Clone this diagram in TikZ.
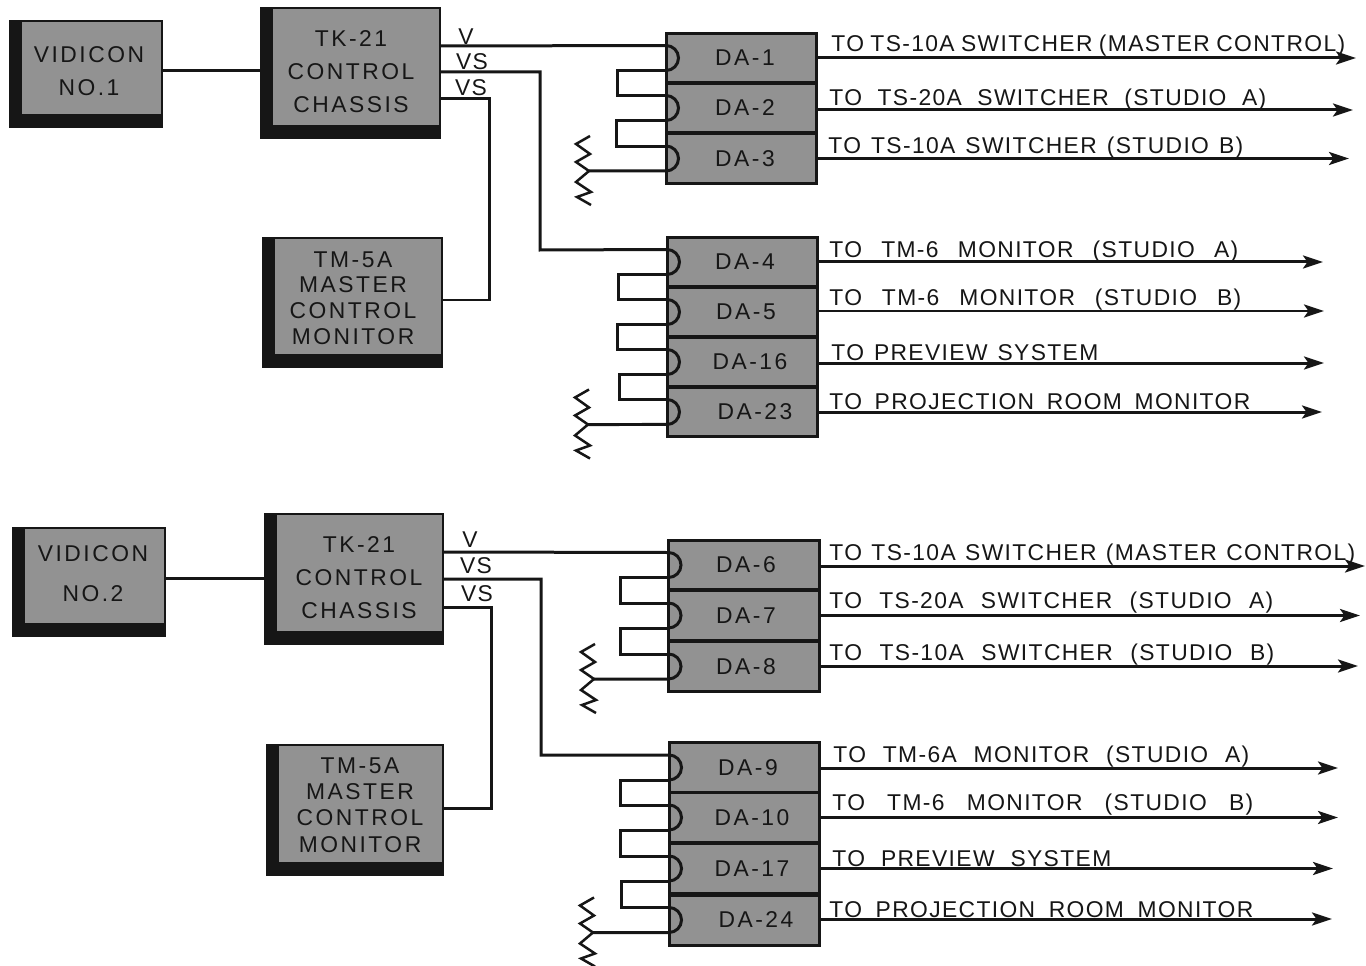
\documentclass[tikz,border=0pt]{standalone}
\usepackage{fontspec}
\setmainfont{Liberation Sans}
\newfontfamily\tofont[LetterSpace=6]{Liberation Sans}
\newfontfamily\panelfont[LetterSpace=11]{Liberation Sans}
\usepackage{xcolor}
\usepackage{tikz}
\usetikzlibrary{arrows.meta, positioning}
\definecolor{panelgray}{RGB}{146, 146, 146}
\definecolor{inkblack}{RGB}{22, 22, 22}
\tikzset{
  wire/.style={line width=0.06cm, inkblack},
  feed/.style={wire, -{Stealth[length=4mm, width=2.6mm, inset=0.9mm]}},
  shadowbox/.style={draw=inkblack, line width=0.03cm, fill=panelgray, inner sep=0pt, outer sep=0pt,
    path picture={
      \fill[inkblack] (path picture bounding box.south west) rectangle
        ([xshift=0.23cm]path picture bounding box.north west);
      \fill[inkblack] (path picture bounding box.south west) rectangle
        ([yshift=0.25cm]path picture bounding box.south east);
    }},
  boxtext/.style={inner sep=0pt, align=center, text=inkblack, font=\panelfont\fontsize{13}{14}\selectfont},
  dablock/.style={draw=inkblack, line width=0.06cm, fill=panelgray, inner sep=0pt, outer sep=0pt,
    minimum width=3.02cm, minimum height=1cm, text=inkblack, font=\panelfont\fontsize{13}{14}\selectfont,
    execute at begin node=\hspace*{#1},
    path picture={
      \draw[wire] (path picture bounding box.west) circle (0.25cm);
    }},
  dablock/.default=0.14cm,
  tolabel/.style={anchor=west, inner sep=0pt, yshift=-1.1pt, text=inkblack, font=\tofont\fontsize{13}{14}\selectfont},
  sigtag/.style={inner sep=0pt, text=inkblack, font=\tofont\fontsize{13}{14}\selectfont},
  termload/.pic={
    \draw[wire, line width=0.05cm] (1,-35) -- (-13,-27) -- (1,-17) -- (-13,-9) -- (0,0)
      -- (-13,11) -- (2,21) -- (-12,26) -- (2,34);
  }
}
\begin{document}
\begin{tikzpicture}[x=0.02cm, y=-0.02cm]
  \useasboundingbox (0,0) rectangle (1366,966);

  % upper chain, camera and control
  \node[shadowbox, minimum width=3.04cm, minimum height=2.12cm] (vid1) at (86,74) {};
  \node[boxtext] (vid1text) at (89,71) {VIDICON\\[4.7pt]NO.1};
  \node[shadowbox, minimum width=3.58cm, minimum height=2.6cm] (tk1) at (350.5,73) {};
  \node[boxtext] (tk1text) at (351,71.5) {TK-21\\[4.7pt]CONTROL\\[4.7pt]CHASSIS};
  \node[shadowbox, minimum width=3.58cm, minimum height=2.58cm] (tm1) at (352.5,302.5) {};
  \node[boxtext] (tm1text) at (353,298) {TM-5A\\[0.7pt]MASTER\\[0.7pt]CONTROL\\[0.7pt]MONITOR};

  % upper distribution amplifiers
  \node[dablock] (da1) at (741.5,58) {DA-1};
  \node[dablock] (da2) at (741.5,108) {DA-2};
  \node[dablock] (da3) at (741.5,158.5) {DA-3};
  \node[dablock=0.1cm] (da4) at (742.5,262) {DA-4};
  \node[dablock] (da5) at (742.5,312) {DA-5};
  \node[dablock=0.3cm] (da16) at (742.5,362) {DA-16};
  \node[dablock=0.5cm] (da23) at (742.5,412) {DA-23};

  % lower chain, camera and control
  \node[shadowbox, minimum width=3.04cm, minimum height=2.16cm] (vid2) at (89,582) {};
  \node[boxtext] (vid2text) at (93,574) {VIDICON\\[8.7pt]NO.2};
  \node[shadowbox, minimum width=3.56cm, minimum height=2.6cm] (tk2) at (354,579) {};
  \node[boxtext] (tk2text) at (359,577.5) {TK-21\\[4.7pt]CONTROL\\[4.7pt]CHASSIS};
  \node[shadowbox, minimum width=3.52cm, minimum height=2.6cm] (tm2) at (355,810) {};
  \node[boxtext] (tm2text) at (360,805) {TM-5A\\[1pt]MASTER\\[1pt]CONTROL\\[1pt]MONITOR};

  % lower distribution amplifiers
  \node[dablock=0.08cm] (da6) at (744,565) {DA-6};
  \node[dablock=0.08cm] (da7) at (744,615.5) {DA-7};
  \node[dablock=0.08cm] (da8) at (744,666.5) {DA-8};
  \node[dablock] (da9) at (744.5,767.5) {DA-9};
  \node[dablock=0.3cm] (da10) at (744.5,817.5) {DA-10};
  \node[dablock=0.3cm] (da17) at (744.5,868.5) {DA-17};
  \node[dablock=0.46cm] (da24) at (744.5,920) {DA-24};

  % signal tags
  \node[sigtag] (tagv1) at (466,37) {V};
  \node[sigtag] (tagvs1) at (472,62) {VS};
  \node[sigtag] (tagvm1) at (471,88) {VS};
  \node[sigtag] (tagv2) at (470,540) {V};
  \node[sigtag] (tagvs2) at (476,566) {VS};
  \node[sigtag] (tagvm2) at (477,594) {VS};

  % upper wiring
  \draw[wire] (vid1.east |- 0,71) -- (tk1.west |- 0,71);
  \draw[wire] (tk1.east |- 0,46) -- ([yshift=0.25cm]da1.west);
  \draw[wire] (tk1.east |- 0,72) -| (540,250) -- ([yshift=0.25cm]da4.west);
  \draw[wire] (tk1.east |- 0,99) -| (489,300) -- (tm1.east |- 0,300);
  \draw[wire] ([yshift=-0.25cm]da1.west) -- ++(-49,0) |- ([yshift=0.25cm]da2.west);
  \draw[wire] ([yshift=-0.25cm]da2.west) -- ++(-50,0) |- ([yshift=0.25cm]da3.west);
  \draw[wire] ([yshift=-0.25cm]da4.west) -- ++(-49,0) |- ([yshift=0.25cm]da5.west);
  \draw[wire] ([yshift=-0.25cm]da5.west) -- ++(-50,0) |- ([yshift=0.25cm]da16.west);
  \draw[wire] ([yshift=-0.25cm]da16.west) -- ++(-48,0) |- ([yshift=0.25cm]da23.west);

  % lower wiring
  \draw[wire] (vid2.east |- 0,578) -- (tk2.west |- 0,578);
  \draw[wire] (tk2.east |- 0,552) -- ([yshift=0.25cm]da6.west);
  \draw[wire] (tk2.east |- 0,579) -| (541,755) -- ([yshift=0.25cm]da9.west);
  \draw[wire] (tk2.east |- 0,607) -| (491,808) -- (tm2.east |- 0,808);
  \draw[wire] ([yshift=-0.25cm]da6.west) -- ++(-48,0) |- ([yshift=0.25cm]da7.west);
  \draw[wire] ([yshift=-0.25cm]da7.west) -- ++(-48,0) |- ([yshift=0.25cm]da8.west);
  \draw[wire] ([yshift=-0.25cm]da9.west) -- ++(-49,0) |- ([yshift=0.25cm]da10.west);
  \draw[wire] ([yshift=-0.25cm]da10.west) -- ++(-49,0) |- ([yshift=0.25cm]da17.west);
  \draw[wire] ([yshift=-0.25cm]da17.west) -- ++(-48,0) |- ([yshift=0.25cm]da24.west);

  % terminations
  \coordinate (load1) at (589,171);
  \coordinate (load2) at (588,424.5);
  \coordinate (load3) at (594,679);
  \coordinate (load4) at (593,932.5);
  \pic at (load1) {termload};
  \pic at (load2) {termload};
  \pic at (load3) {termload};
  \pic at (load4) {termload};
  \draw[wire] ([yshift=-0.25cm]da3.west) -- (load1);
  \draw[wire] ([yshift=-0.25cm]da23.west) -- (load2);
  \draw[wire] ([yshift=-0.25cm]da8.west) -- (load3);
  \draw[wire] ([yshift=-0.25cm]da24.west) -- (load4);

  % outgoing feeds, upper
  \draw[feed] (da1.east) -- (1356,58);
  \draw[feed] (da2.east |- 0,110) -- (1353,110);
  \draw[feed] (da3.east) -- (1349,158.5);
  \draw[feed] (da4.east) -- (1323,262);
  \draw[feed] (da5.east |- 0,311) -- (1324,311);
  \draw[feed] (da16.east |- 0,363) -- (1324,363);
  \draw[feed] (da23.east) -- (1322,412);

  % outgoing feeds, lower
  \draw[feed] (da6.east |- 0,566) -- (1365,566);
  \draw[feed] (da7.east) -- (1360,615.5);
  \draw[feed] (da8.east |- 0,666) -- (1358,666);
  \draw[feed] (da9.east |- 0,768) -- (1338,768);
  \draw[feed] (da10.east) -- (1338,817.5);
  \draw[feed] (da17.east) -- (1333,868.5);
  \draw[feed] (da24.east |- 0,919) -- (1332,919);

  % destinations
  \node[tolabel] (to1) at (831,44) {\makebox[10.28cm][s]{TO TS-10A SWITCHER (MASTER CONTROL)}};
  \node[tolabel] (to2) at (829,98) {\makebox[8.74cm][s]{TO TS-20A SWITCHER (STUDIO A)}};
  \node[tolabel] (to3) at (828,146) {\makebox[8.3cm][s]{TO TS-10A SWITCHER (STUDIO B)}};
  \node[tolabel] (to4) at (829,250) {\makebox[8.18cm][s]{TO TM-6 MONITOR (STUDIO A)}};
  \node[tolabel] (to5) at (829,298) {\makebox[8.24cm][s]{TO TM-6 MONITOR (STUDIO B)}};
  \node[tolabel] (to16) at (831,351) {\makebox[5.34cm][s]{TO PREVIEW SYSTEM}};
  \node[tolabel] (to23) at (829,400) {\makebox[8.42cm][s]{TO PROJECTION ROOM MONITOR}};
  \node[tolabel] (to6) at (829,553) {\makebox[10.52cm][s]{TO TS-10A SWITCHER (MASTER CONTROL)}};
  \node[tolabel] (to7) at (829,601) {\makebox[8.88cm][s]{TO TS-20A SWITCHER (STUDIO A)}};
  \node[tolabel] (to8) at (829,653) {\makebox[8.9cm][s]{TO TS-10A SWITCHER (STUDIO B)}};
  \node[tolabel] (to9) at (833,755) {\makebox[8.32cm][s]{TO TM-6A MONITOR (STUDIO A)}};
  \node[tolabel] (to10) at (832,803) {\makebox[8.42cm][s]{TO TM-6 MONITOR (STUDIO B)}};
  \node[tolabel] (to17) at (832,857) {\makebox[5.58cm][s]{TO PREVIEW SYSTEM}};
  \node[tolabel] (to24) at (829,908) {\makebox[8.48cm][s]{TO PROJECTION ROOM MONITOR}};
\end{tikzpicture}
\end{document}
